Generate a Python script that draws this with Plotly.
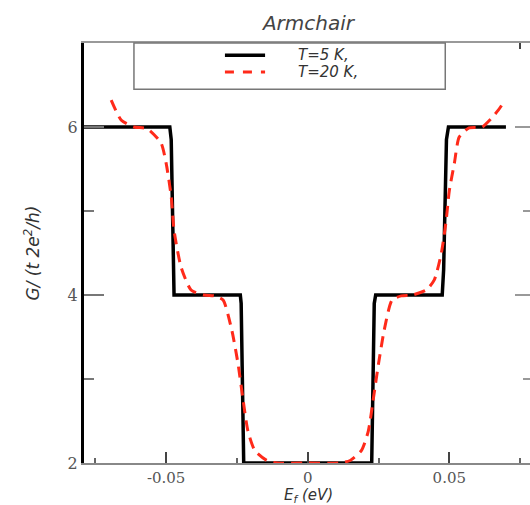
import plotly.graph_objects as go

# T = 5 K (black, solid)
e_5k = [-0.079, -0.0487, -0.0482, -0.0472, -0.0238, -0.0235, -0.0226, 0.0226, 0.0235, 0.0240,
        0.0475, 0.0480, 0.0490, 0.0497, 0.070]
g_5k = [6.0, 6.0, 5.85, 4.0, 4.0, 3.9, 2.0, 2.0, 3.9, 4.0,
        4.0, 4.3, 5.85, 6.0, 6.0]

# T = 20 K (red, dashed)
e_20k = [-0.0694, -0.0658, -0.0613, -0.0567, -0.0518, -0.0500, -0.0482, -0.0472, -0.0447,
         -0.0412, -0.0366, -0.0330, -0.0299, -0.0268, -0.0246, -0.0229, -0.0211, -0.0187,
         -0.0144, -0.0109, 0.0, 0.0109, 0.0150, 0.0190, 0.0214, 0.0232, 0.0250, 0.0270,
         0.0298, 0.0330, 0.0370, 0.0419, 0.0447, 0.0472, 0.0489, 0.0500, 0.0518, 0.0535,
         0.0570, 0.0616, 0.0648, 0.0673, 0.0697]
g_20k = [6.32, 6.08, 6.0, 5.98, 5.81, 5.57, 5.17, 4.77, 4.33,
         4.06, 4.0, 3.99, 3.94, 3.58, 3.18, 2.77, 2.38, 2.15,
         2.03, 2.0, 2.0, 2.0, 2.03, 2.15, 2.38, 2.77, 3.18, 3.58,
         3.94, 3.99, 4.0, 4.06, 4.18, 4.5, 4.89, 5.24, 5.57, 5.88,
         5.99, 6.0, 6.1, 6.2, 6.32]

series_names = ["T=5 K,", "T=20 K,"]
series_colors = ["black", "#ff2a1a"]
series_dash = ["solid", "11px,7px"]
series_width = [3.5, 3]
x_major = [-0.05, 0, 0.05]
x_major_text = ["-0.05", "0", "0.05"]
x_minor = [-0.075, -0.025, 0.025, 0.075]
y_major = [2, 4, 6]
y_major_text = ["2", "4", "6"]
y_minor = [3, 5, 7]
x_title = "E<sub>f</sub> (eV)"
y_title = "G/ (t 2e<sup>2</sup>/h)"

fig = go.Figure()
fig.add_trace(go.Scatter(x=e_5k, y=g_5k, mode="lines", name=series_names[0],
                         line=dict(color=series_colors[0], width=series_width[0])))
fig.add_trace(go.Scatter(x=e_20k, y=g_20k, mode="lines", name=series_names[1],
                         line=dict(color=series_colors[1], width=series_width[1], dash=series_dash[1],
                                   shape="spline", smoothing=0.6)))
# invisible trace for mirrored axes
fig.add_trace(go.Scatter(x=[0], y=[4], xaxis="x2", yaxis="y2", mode="markers",
                         marker=dict(opacity=0), showlegend=False, hoverinfo="skip"))

tickfont = dict(family="DejaVu Serif", size=15, color="#555")
xr = [-0.079, 0.0785]
yr = [2, 7]

# legend drawn as shapes + annotations (box, samples, labels)
shapes = [dict(type="rect", xref="paper", yref="paper", x0=0.112, x1=0.81, y0=0.89, y1=1.0,
               line=dict(color="#777", width=1.5), fillcolor="rgba(0,0,0,0)")]
annotations = []
leg_y = [0.971, 0.931]
for i, name in enumerate(series_names):
    shapes.append(dict(type="line", xref="paper", yref="paper", x0=0.316, x1=0.406,
                       y0=leg_y[i], y1=leg_y[i],
                       line=dict(color=series_colors[i], width=series_width[i],
                                 dash="solid" if i == 0 else "dash")))
    annotations.append(dict(text=name, xref="paper", yref="paper", x=0.476, y=leg_y[i],
                            xanchor="left", yanchor="middle", showarrow=False,
                            font=dict(family="DejaVu Sans", size=15, color="#333", style="italic")))
annotations.append(dict(text=x_title, xref="paper", yref="paper", x=0.503, y=-0.05,
                        xanchor="center", yanchor="top", showarrow=False,
                        font=dict(family="DejaVu Sans", size=15, color="#333", style="italic")))

fig.update_layout(
    width=530, height=505,
    margin=dict(l=84, r=0, t=43, b=42),
    paper_bgcolor="white", plot_bgcolor="white",
    showlegend=False,
    title=dict(text="Armchair", x=0.582, xanchor="center", y=0.955, yanchor="middle",
               font=dict(family="DejaVu Sans", size=20, color="#444", style="italic")),
    xaxis=dict(range=xr, showgrid=False, zeroline=False, showline=True, linecolor="#888",
               linewidth=1.5, ticks="inside", ticklen=11, tickwidth=2, tickcolor="#444",
               tickvals=x_major, ticktext=x_major_text, tickfont=tickfont,
               minor=dict(tickvals=x_minor, ticks="inside", ticklen=5, tickcolor="#666", tickwidth=1.5)),
    yaxis=dict(range=yr, showgrid=False, zeroline=False, showline=True, linecolor="black",
               linewidth=3, ticks="inside", ticklen=20, tickwidth=1.5, tickcolor="#777",
               tickvals=y_major, ticktext=y_major_text,
               tickfont=dict(family="DejaVu Serif", size=16, color="#555"),
               minor=dict(tickvals=y_minor, ticks="inside", ticklen=10, tickcolor="#777", tickwidth=1.5),
               title=dict(text=y_title, standoff=24,
                          font=dict(family="DejaVu Sans", size=17, color="#333", style="italic"))),
    xaxis2=dict(overlaying="x", side="top", matches="x", range=xr, showgrid=False, zeroline=False,
                showline=True, linecolor="#999", linewidth=1.5, ticks="", tickvals=x_major,
                showticklabels=False,
                minor=dict(tickvals=[0.075], ticks="inside", ticklen=6, tickcolor="#444", tickwidth=2)),
    yaxis2=dict(overlaying="y", side="right", matches="y", range=yr, showgrid=False, zeroline=False,
                showline=False, ticks="inside", ticklen=15, tickwidth=1.5, tickcolor="#999",
                tickvals=y_major, showticklabels=False,
                minor=dict(tickvals=y_minor, ticks="inside", ticklen=7, tickcolor="#999")),
    shapes=shapes,
    annotations=annotations,
)

fig.write_html("out.html")
